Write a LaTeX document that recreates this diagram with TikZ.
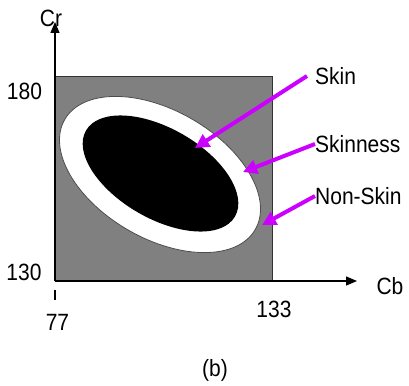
\documentclass[tikz,border=0pt]{standalone}
\usepackage{fontspec}
\setmainfont{Liberation Sans}
\usetikzlibrary{arrows.meta}
\definecolor{magarrow}{RGB}{204,0,255}
\definecolor{regiongray}{RGB}{128,128,128}
\newcommand{\talltxt}[1]{\scalebox{1}[1.12]{#1}}
\begin{document}
\begin{tikzpicture}[x=1pt,y=-1pt,
  txt/.style={font=\fontsize{21}{24}\selectfont, inner sep=0pt},
  lbl/.style={txt, anchor=west},
  axisline/.style={line width=1.3pt, -{Triangle[length=11pt,width=9pt]}},
  pointer/.style={draw=magarrow, line width=4pt, -{Triangle[length=14pt,width=14pt]}}]
\useasboundingbox (0,0) rectangle (409,385);
% region square
\filldraw[fill=regiongray, draw=black!80, line width=0.8pt] (55,76) rectangle (272,281);
% outer (skinness) ellipse
\filldraw[fill=white, draw=black!70, line width=0.8pt, rotate around={-30:(160,174.5)}]
  (160,174.5) ellipse [x radius=110, y radius=64];
% inner (skin) ellipse
\fill[black, rotate around={-30:(160.5,173.5)}]
  (160.5,173.5) ellipse [x radius=86, y radius=45];
% axes
\coordinate (O) at (55,281);
\coordinate (ytop) at (55,22);
\coordinate (xend) at (357,281);
\draw[axisline] (O) -- (ytop);
\draw[axisline] (O) -- (xend);
\coordinate (tickA) at (55,290);
\coordinate (tickB) at (55,300);
\draw[line width=1.3pt] (tickA) -- (tickB);
% axis labels
\node[txt] (cr) at (51,18) {\talltxt{Cr}};
\node[txt] (cb) at (390,286) {\talltxt{Cb}};
\node[txt] (v180) at (24.5,91) {\talltxt{180}};
\node[txt] (v130) at (24,272) {\talltxt{130}};
\node[txt] (v77) at (57.5,322) {\talltxt{77}};
\node[txt] (v133) at (274,309) {\talltxt{133}};
\node[txt] (cap) at (215,370) {\talltxt{(b)}};
% region labels
\node[lbl] (skin) at (315,76) {\talltxt{Skin}};
\node[lbl] (skinness) at (315,144) {\talltxt{Skinness}};
\node[lbl] (nonskin) at (315,196) {\talltxt{Non-Skin}};
\coordinate (skinS) at (307,76);
\coordinate (skinT) at (195,148);
\coordinate (skinnessT) at (243,172);
\coordinate (nonskinT) at (262,225);
\draw[pointer] (skinS) -- (skinT);
\draw[pointer] (skinness.west) -- (skinnessT);
\draw[pointer] (nonskin.west) -- (nonskinT);
\end{tikzpicture}
\end{document}
